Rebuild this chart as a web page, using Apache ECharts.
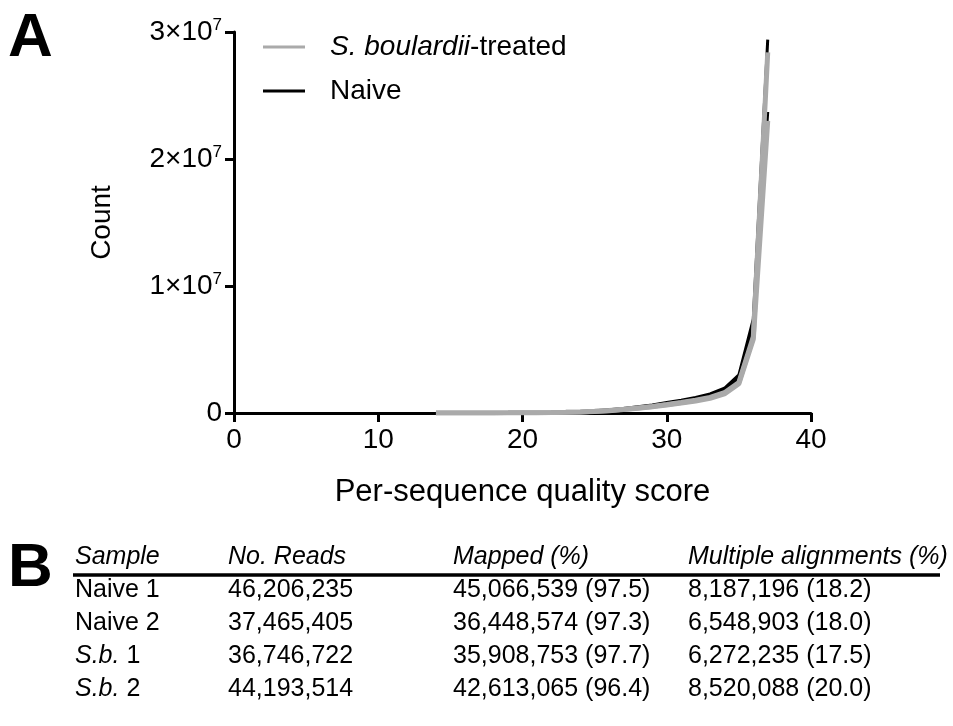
<!DOCTYPE html>
<html>
<head>
<meta charset="utf-8">
<script src="https://cdn.jsdelivr.net/npm/echarts@6/dist/echarts.min.js"></script>
<style>
html,body{margin:0;padding:0;background:#fff;}
#main{width:953px;height:726px;}
</style>
</head>
<body>
<div id="main"></div>
<script>
// quality scores (x) and per-sample counts
var scores = [14,15,16,17,18,19,20,21,22,23,24,25,26,27,28,29,30,31,32,33,34,35,36,37];
var naive1 = [3000,4000,5000,7000,10000,14000,20000,30000,45000,70000,110000,170000,250000,360000,490000,640000,820000,1000000,1220000,1500000,1950000,3000000,7400000,29400000];
var naive2 = [2500,3500,4500,6000,9000,13000,18000,27000,41000,64000,100000,155000,230000,335000,460000,600000,770000,950000,1160000,1420000,1850000,2750000,7000000,23700000];
var sb1 = [2000,3000,4000,5500,8000,11000,16000,24000,36000,56000,88000,135000,200000,290000,400000,520000,670000,830000,1010000,1230000,1600000,2400000,6000000,28400000];
var sb2 = [1800,2700,3600,5000,7500,10500,15000,22000,33000,52000,82000,125000,185000,270000,375000,490000,630000,780000,950000,1160000,1500000,2300000,5800000,23000000];

// table panel B
var tableHeaders = ['Sample', 'No. Reads', 'Mapped (%)', 'Multiple alignments (%)'];
var sampleNames = ['Naive 1', 'Naive 2', '{i|S.b.} 1', '{i|S.b.} 2'];
var readCounts = ['46,206,235', '37,465,405', '36,746,722', '44,193,514'];
var mappedCounts = ['45,066,539 (97.5)', '36,448,574 (97.3)', '35,908,753 (97.7)', '42,613,065 (96.4)'];
var multiCounts = ['8,187,196 (18.2)', '6,548,903 (18.0)', '6,272,235 (17.5)', '8,520,088 (20.0)'];

var FONT = '"Liberation Sans", Arial, sans-serif';

function pairs(ys){
    var out = [];
    for (var i = 0; i < scores.length; i++) out.push([scores[i], ys[i]]);
    return out;
}

var myChart = echarts.init(document.getElementById('main'));

// table text
var colX = [75, 228, 453, 688];
var rowY = [590, 623, 656, 689];
var gfx = [];
gfx.push({type:'text', left: 8, top: 8, style:{text:'A', font:'bold 62px ' + FONT, fill:'#000'}});
gfx.push({type:'text', left: 8, top: 538, style:{text:'B', font:'bold 62px ' + FONT, fill:'#000'}});
for (var c = 0; c < tableHeaders.length; c++) {
    gfx.push({type:'text', x: colX[c], y: 557, style:{text: tableHeaders[c], font:'italic 25px ' + FONT, fill:'#000', verticalAlign:'middle'}});
}
gfx.push({type:'line', shape:{x1: 73, y1: 575, x2: 940, y2: 575}, style:{stroke:'#000', lineWidth: 3.5}});
var cols = [sampleNames, readCounts, mappedCounts, multiCounts];
for (var r = 0; r < rowY.length; r++) {
    for (var c = 0; c < cols.length; c++) {
        gfx.push({type:'text', x: colX[c], y: rowY[r], style:{
            text: cols[c][r], font:'25px ' + FONT, fill:'#000', verticalAlign:'middle',
            rich:{i:{fontStyle:'italic', fontSize:25, fontFamily: FONT}}
        }});
    }
}

var lineSeries = function(name, data, color, width){
    return {
        name: name, type: 'line', data: pairs(data), symbol: 'none',
        lineStyle: {color: color, width: width}, itemStyle: {color: color},
        animation: false
    };
};

option = {
    animation: false,
    textStyle: {fontFamily: FONT},
    grid: {left: 234, right: 142, top: 32, bottom: 313},
    legend: {
        orient: 'vertical', left: 258, top: 28,
        icon: 'rect', itemWidth: 42, itemHeight: 3, itemGap: 16,
        data: ['S. boulardii-treated', 'Naive'],
        formatter: function(n){ return n === 'Naive' ? 'Naive' : '{i|S. boulardii}-treated'; },
        textStyle: {fontSize: 28, color: '#000', padding: [0,0,0,20],
            rich: {i: {fontStyle: 'italic', fontSize: 28, color: '#000'}}}
    },
    xAxis: {
        type: 'value', min: 0, max: 40, interval: 10,
        name: 'Per-sequence quality score', nameLocation: 'middle', nameGap: 64,
        nameTextStyle: {fontSize: 31, color: '#000'},
        axisLine: {lineStyle: {color: '#000', width: 3}},
        axisTick: {length: 9, lineStyle: {color: '#000', width: 3}},
        axisLabel: {fontSize: 28, color: '#000', margin: 13},
        splitLine: {show: false}
    },
    yAxis: {
        type: 'value', min: 0, max: 30000000, interval: 10000000,
        name: 'Count', nameLocation: 'middle', nameGap: 118, nameRotate: 90,
        nameTextStyle: {fontSize: 28, color: '#000'},
        axisLine: {show: true, lineStyle: {color: '#000', width: 3}},
        axisTick: {show: true, length: 9, lineStyle: {color: '#000', width: 3}},
        axisLabel: {
            fontSize: 28, color: '#000', margin: 12,
            formatter: function(v){ return v === 0 ? '0' : (v / 10000000) + '×10{sup|7}'; },
            rich: {sup: {fontSize: 17, color: '#000', verticalAlign: 'bottom', padding: [0,0,14,0]}}
        },
        splitLine: {show: false}
    },
    graphic: gfx,
    series: [
        lineSeries('Naive', naive1, '#000', 3),
        lineSeries('Naive', naive2, '#000', 3),
        lineSeries('S. boulardii-treated', sb1, '#aaa', 5),
        lineSeries('S. boulardii-treated', sb2, '#aaa', 5)
    ]
};

myChart.setOption(option);
</script>
</body>
</html>
